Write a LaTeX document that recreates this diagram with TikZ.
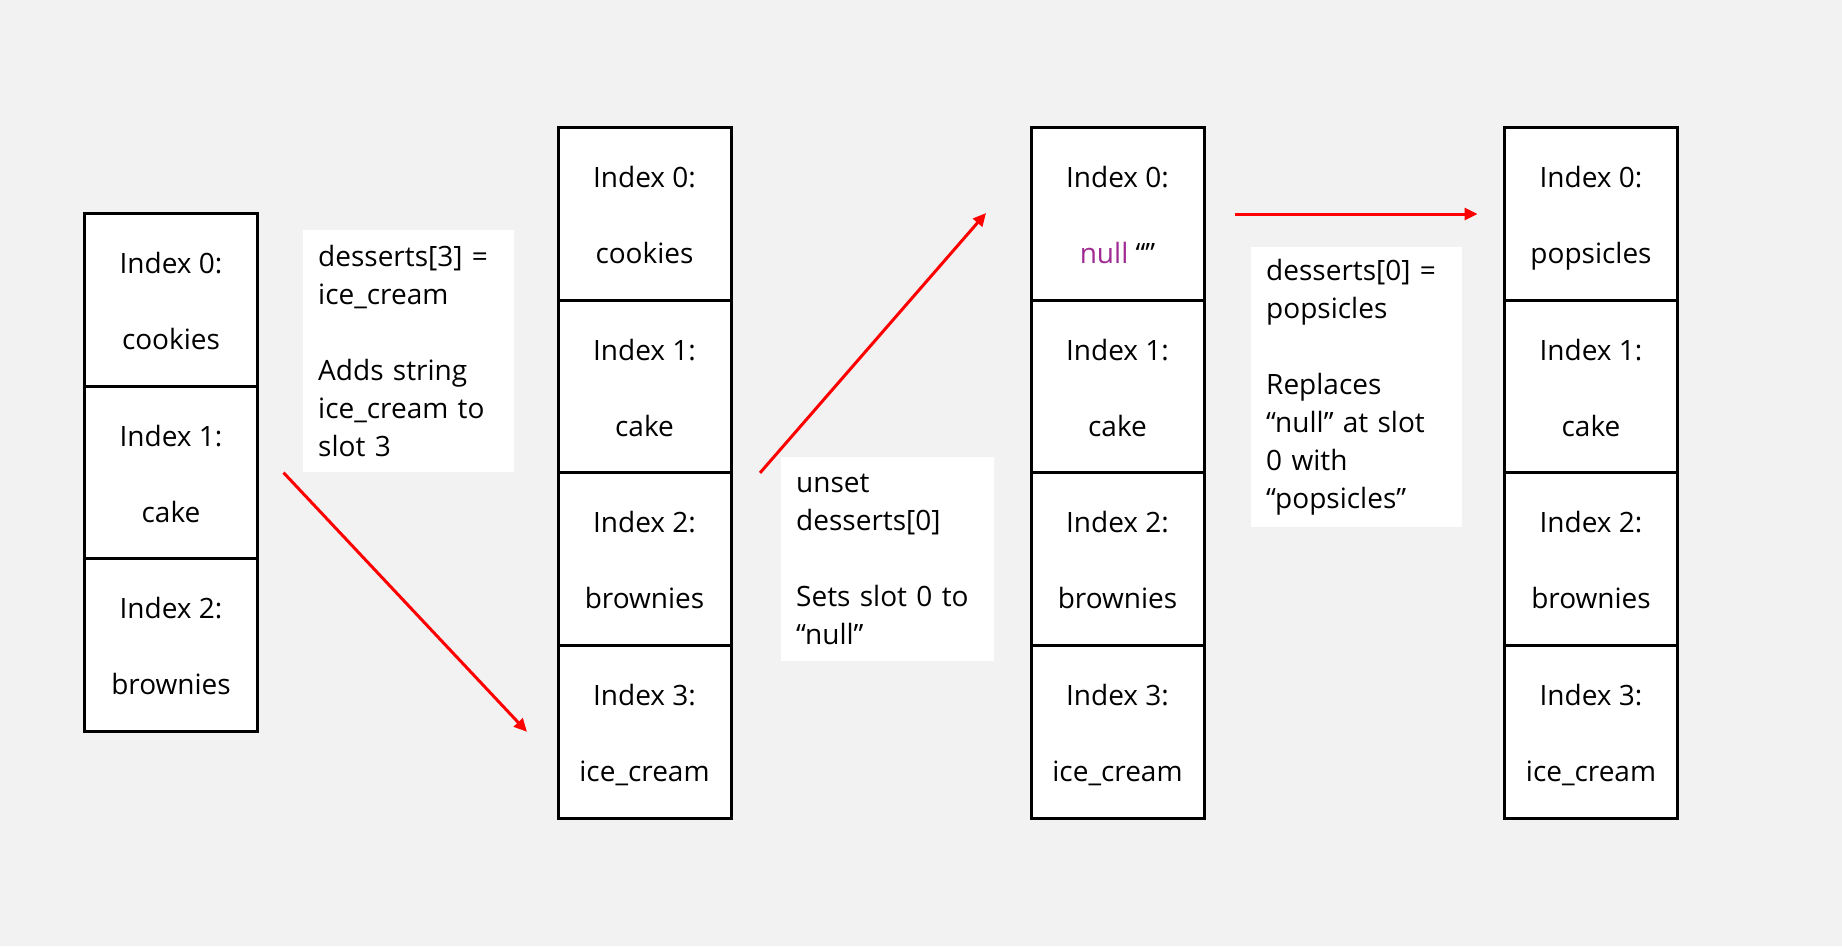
\documentclass[tikz,border=0pt]{standalone}
\usepackage{fontspec}
\setmainfont{Open Sans}
\usetikzlibrary{positioning,arrows.meta}
\definecolor{bggray}{RGB}{242,242,242}
\definecolor{nullpurple}{RGB}{160,43,147}

% index line, blank line, value line
\newcommand{\slotlines}[2]{\rule{0pt}{30pt}Index #1:\\[38pt]#2\vphantom{p}}

\tikzset{
  cell/.style={draw, line width=3pt, fill=white, outer sep=0pt, inner sep=0pt,
    minimum width=173pt, minimum height=172.6pt, align=center,
    font=\fontsize{28}{38}\selectfont},
  note/.style={fill=white, anchor=north west, inner xsep=15pt, inner ysep=0pt,
    align=left, font=\fontsize{28}{38}\selectfont},
  step arrow/.style={draw=red, line width=3pt, -{Triangle[length=13pt,width=12pt]}}
}

\begin{document}
\begin{tikzpicture}[x=1pt,y=-1pt]

\fill[bggray] (0,0) rectangle (1842,946);
\useasboundingbox (0,0) rectangle (1842,946);

% array before
\node [cell] (a0) at (171,300) {\slotlines{0}{cookies}};
\node [cell, below=0pt of a0] (a1) {\slotlines{1}{cake}};
\node [cell, below=0pt of a1] (a2) {\slotlines{2}{brownies}};

% after desserts[3] = ice_cream
\node [cell] (b0) at (644.5,214) {\slotlines{0}{cookies}};
\node [cell, below=0pt of b0] (b1) {\slotlines{1}{cake}};
\node [cell, below=0pt of b1] (b2) {\slotlines{2}{brownies}};
\node [cell, below=0pt of b2] (b3) {\slotlines{3}{ice\_cream}};

% after unset
\node [cell] (c0) at (1117.5,214) {\slotlines{0}{\textcolor{nullpurple}{null} “”}};
\node [cell, below=0pt of c0] (c1) {\slotlines{1}{cake}};
\node [cell, below=0pt of c1] (c2) {\slotlines{2}{brownies}};
\node [cell, below=0pt of c2] (c3) {\slotlines{3}{ice\_cream}};

% after desserts[0] = popsicles
\node [cell] (d0) at (1591,214) {\slotlines{0}{popsicles}};
\node [cell, below=0pt of d0] (d1) {\slotlines{1}{cake}};
\node [cell, below=0pt of d1] (d2) {\slotlines{2}{brownies}};
\node [cell, below=0pt of d2] (d3) {\slotlines{3}{ice\_cream}};

% notes
\node [note, text width=181pt, minimum height=242pt] (add) at (303,230)
  {desserts[3] =\\ice\_cream\\[38pt]Adds string\\ice\_cream to\\slot 3};
\node [note, text width=183pt, minimum height=204pt] (unset) at (781,457)
  {unset\\desserts[0]\\[38pt]Sets slot 0 to\\“null”};
\node [note, text width=181pt, minimum height=280pt] (repl) at (1251,247)
  {desserts[0] =\\popsicles\\[38pt]Replaces\\“null” at slot\\0 with\\“popsicles”};

% arrows
\coordinate (s1) at ([xshift=26pt]a1.east);
\coordinate (e1) at ([xshift=-31pt]b3.west);
\coordinate (s2) at ([xshift=29pt]b1.south east);
\coordinate (e2) at ([xshift=-45pt,yshift=1pt]c0.west);
\coordinate (s3) at ([xshift=31pt]c0.east);
\coordinate (e3) at ([xshift=-27pt]d0.west);

\draw [step arrow] (s1) -- (e1);
\draw [step arrow] (s2) -- (e2);
\draw [step arrow] (s3) -- (e3);

\end{tikzpicture}
\end{document}
